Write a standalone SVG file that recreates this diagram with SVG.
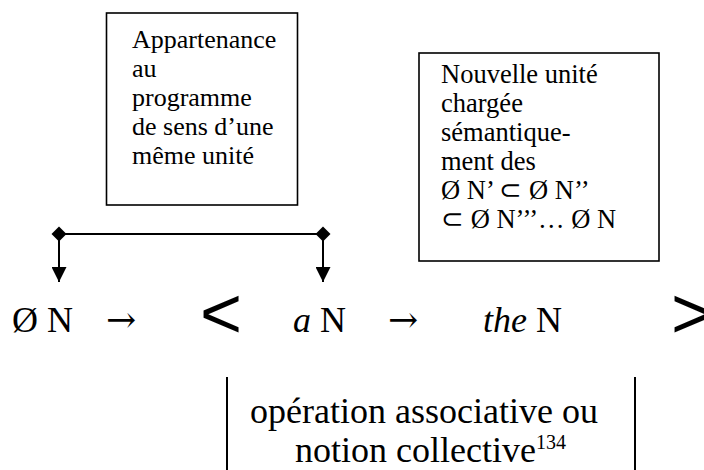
<svg xmlns="http://www.w3.org/2000/svg" width="704" height="470" viewBox="0 0 704 470">
<style>
.t{font-family:"Liberation Serif","Times New Roman",serif;fill:#000}
.box{fill:#fff;stroke:#000;stroke-width:1.6}
.bt{font-size:26px}
.bt2{font-size:26.5px}
.row{font-size:36px}
.arw{font-family:"DejaVu Serif","Liberation Serif",serif;font-size:36px;fill:#000}
.big{font-family:"Liberation Sans",Arial,sans-serif;font-size:72px;fill:#000}
.ln{stroke:#000;stroke-width:2;fill:none}
</style>
<defs>
<marker id="arr" markerUnits="userSpaceOnUse" markerWidth="15" markerHeight="15" refX="15" refY="7.5" orient="auto">
<path d="M0,0 L15,7.5 L0,15 z" fill="#000"/>
</marker>
<marker id="dia" markerUnits="userSpaceOnUse" markerWidth="16" markerHeight="16" refX="8" refY="8" orient="auto">
<path d="M0.5,8 L8,0.5 L15.5,8 L8,15.5 z" fill="#000"/>
</marker>
</defs>
<g id="box1">
<rect class="box" x="106.5" y="13" width="191" height="192"/>
<text class="t bt" x="132" y="48">Appartenance</text>
<text class="t bt" x="132" y="77">au</text>
<text class="t bt" x="132" y="106">programme</text>
<text class="t bt" x="132" y="135">de sens d’une</text>
<text class="t bt" x="132" y="164">même unité</text>
</g>
<g id="box2">
<rect class="box" x="419" y="53" width="240" height="208"/>
<text class="t bt2" x="441" y="83">Nouvelle unité</text>
<text class="t bt2" x="441" y="112">chargée</text>
<text class="t bt2" x="441" y="141">sémantique-</text>
<text class="t bt2" x="441" y="170">ment des</text>
<text class="t bt2" x="441" y="199">Ø N’ ⊂ Ø N’’</text>
<text class="t bt2" x="441" y="228">⊂ Ø N’’’… Ø  N</text>
</g>
<g id="connectors">
<line class="ln" x1="59" y1="234" x2="323" y2="234"/>
<line class="ln" x1="59" y1="234" x2="59" y2="282" marker-start="url(#dia)" marker-end="url(#arr)"/>
<line class="ln" x1="323" y1="234" x2="323" y2="282" marker-start="url(#dia)" marker-end="url(#arr)"/>
</g>
<g id="zeroN"><text class="t row" x="12" y="332">Ø N</text></g>
<g id="arrow1"><text class="arw" x="106" y="332">→</text></g>
<g id="lt"><text class="big" x="200" y="338">&lt;</text></g>
<g id="aN"><text class="t row" x="293" y="332"><tspan font-style="italic">a</tspan> N</text></g>
<g id="arrow2"><text class="arw" x="388" y="332">→</text></g>
<g id="theN"><text class="t row" x="483" y="332"><tspan font-style="italic">the</tspan> N</text></g>
<g id="gt"><text class="big" x="671" y="338">&gt;</text></g>
<g id="operation">
<line class="ln" x1="227" y1="377" x2="227" y2="470"/>
<line class="ln" x1="635" y1="377" x2="635" y2="470"/>
<text class="t row" x="250" y="423">opération associative ou</text>
<text class="t row" x="295" y="462">notion collective<tspan font-size="20" dy="-13">134</tspan></text>
</g>
</svg>
